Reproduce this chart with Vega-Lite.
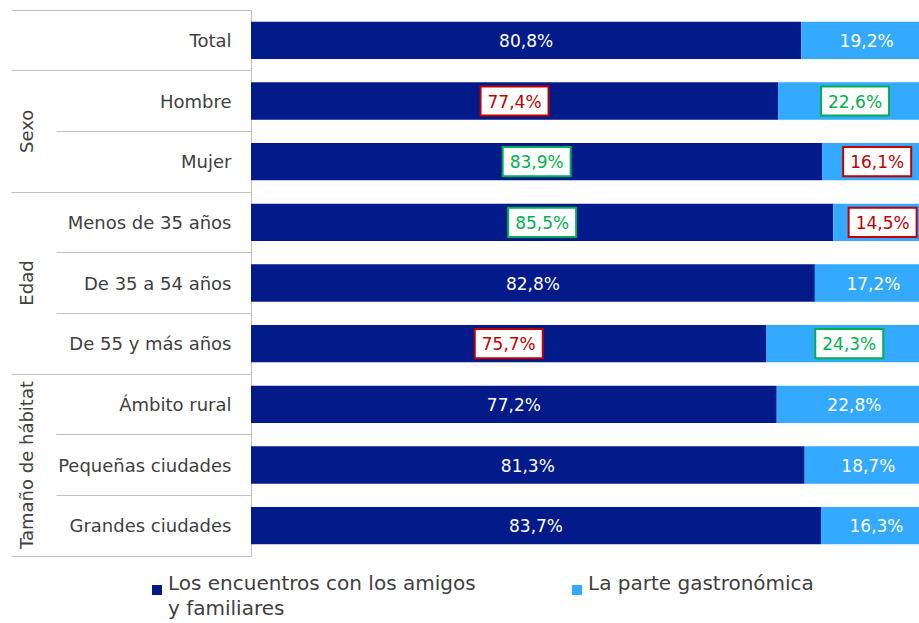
{
  "$schema": "https://vega.github.io/schema/vega-lite/v6.json",
  "width": 668,
  "height": 546,
  "autosize": {"type": "none"},
  "padding": {"left": 251, "top": 10, "right": 0, "bottom": 67},
  "background": "white",
  "config": {
    "view": {"stroke": null},
    "font": "DejaVu Sans",
    "style": {"guide-label": {"lineHeight": 25}},
    "locale": {"number": {"decimal": ",", "thousands": ".", "grouping": [3], "currency": ["", "%"]}}
  },
  "data": {
    "values": [
      {"categoria": "Total", "serie": "Los encuentros con los amigos y familiares", "valor": 80.8, "diferencia": ""},
      {"categoria": "Total", "serie": "La parte gastronómica", "valor": 19.2, "diferencia": ""},
      {"categoria": "Hombre", "serie": "Los encuentros con los amigos y familiares", "valor": 77.4, "diferencia": "inferior"},
      {"categoria": "Hombre", "serie": "La parte gastronómica", "valor": 22.6, "diferencia": "superior"},
      {"categoria": "Mujer", "serie": "Los encuentros con los amigos y familiares", "valor": 83.9, "diferencia": "superior"},
      {"categoria": "Mujer", "serie": "La parte gastronómica", "valor": 16.1, "diferencia": "inferior"},
      {"categoria": "Menos de 35 años", "serie": "Los encuentros con los amigos y familiares", "valor": 85.5, "diferencia": "superior"},
      {"categoria": "Menos de 35 años", "serie": "La parte gastronómica", "valor": 14.5, "diferencia": "inferior"},
      {"categoria": "De 35 a 54 años", "serie": "Los encuentros con los amigos y familiares", "valor": 82.8, "diferencia": ""},
      {"categoria": "De 35 a 54 años", "serie": "La parte gastronómica", "valor": 17.2, "diferencia": ""},
      {"categoria": "De 55 y más años", "serie": "Los encuentros con los amigos y familiares", "valor": 75.7, "diferencia": "inferior"},
      {"categoria": "De 55 y más años", "serie": "La parte gastronómica", "valor": 24.3, "diferencia": "superior"},
      {"categoria": "Ámbito rural", "serie": "Los encuentros con los amigos y familiares", "valor": 77.2, "diferencia": ""},
      {"categoria": "Ámbito rural", "serie": "La parte gastronómica", "valor": 22.8, "diferencia": ""},
      {"categoria": "Pequeñas ciudades", "serie": "Los encuentros con los amigos y familiares", "valor": 81.3, "diferencia": ""},
      {"categoria": "Pequeñas ciudades", "serie": "La parte gastronómica", "valor": 18.7, "diferencia": ""},
      {"categoria": "Grandes ciudades", "serie": "Los encuentros con los amigos y familiares", "valor": 83.7, "diferencia": ""},
      {"categoria": "Grandes ciudades", "serie": "La parte gastronómica", "valor": 16.3, "diferencia": ""}
    ]
  },
  "layer": [
    {
      "mark": {"type": "bar", "height": {"band": 0.615}, "clip": true},
      "encoding": {
        "y": {
          "field": "categoria", "type": "nominal",
          "scale": {"domain": ["Total", "Hombre", "Mujer", "Menos de 35 años", "De 35 a 54 años", "De 55 y más años", "Ámbito rural", "Pequeñas ciudades", "Grandes ciudades"], "paddingInner": 0, "paddingOuter": 0},
          "axis": {
            "title": null,
            "domain": true, "domainColor": "#BFBFBF", "domainWidth": 1,
            "ticks": true, "tickColor": "#BFBFBF", "tickWidth": 1,
            "bandPosition": 1, "tickExtra": true,
            "tickSize": {"condition": {"test": "indexof(['Hombre','Menos de 35 años','De 35 a 54 años','Ámbito rural','Pequeñas ciudades'], datum.value) >= 0", "value": 195}, "value": 240},
            "labelPadding": {"condition": {"test": "indexof(['Hombre','Menos de 35 años','De 35 a 54 años','Ámbito rural','Pequeñas ciudades'], datum.value) >= 0", "value": -175}, "value": -220},
            "labelAlign": "right", "labelBaseline": "middle", "labelOffset": 1.5,
            "labelFont": "DejaVu Sans", "labelFontSize": 18, "labelColor": "#404040",
            "labelLimit": 400, "labelOverlap": false
          }
        },
        "x": {"field": "valor", "type": "quantitative", "stack": "zero", "scale": {"domain": [0, 100], "range": [0, 681]}, "axis": null},
        "order": {"field": "serie", "sort": "descending"},
        "color": {
          "field": "serie", "type": "nominal",
          "scale": {"domain": ["Los encuentros con los amigos y familiares", "La parte gastronómica"], "range": ["#021A8A", "#33A9FF"]},
          "legend": {
            "title": null, "orient": "none", "legendX": -104, "legendY": 570,
            "direction": "horizontal", "columns": 2, "columnPadding": 91,
            "symbolType": "square", "symbolSize": 100, "symbolStrokeWidth": 0,
            "labelFont": "DejaVu Sans", "labelFontSize": 20, "labelColor": "#404040",
            "labelOffset": 1, "labelLimit": 400, "labelBaseline": "alphabetic",
            "labelExpr": "datum.label == 'Los encuentros con los amigos y familiares' ? ['Los encuentros con los amigos', 'y familiares'] : [datum.label, '']"
          }
        }
      }
    },
    {
      "transform": [{"filter": "datum.serie == 'Los encuentros con los amigos y familiares' && datum.diferencia != ''"}],
      "mark": {"type": "point", "shape": "M-1,-0.43L1,-0.43L1,0.43L-1,0.43Z", "size": 4624, "filled": false, "fill": "white", "fillOpacity": 1, "strokeWidth": 2, "opacity": 1},
      "encoding": {
        "y": {"field": "categoria", "type": "nominal", "axis": null},
        "x": {"field": "valor", "type": "quantitative", "scale": {"domain": [0, 100], "range": [0, 340.5]}, "axis": null},
        "stroke": {"condition": {"test": "datum.diferencia == 'superior'", "value": "#00B050"}, "value": "#C00000"}
      }
    },
    {
      "transform": [{"filter": "datum.serie == 'Los encuentros con los amigos y familiares'"}],
      "mark": {"type": "text", "font": "DejaVu Sans", "fontSize": 17, "align": "center", "baseline": "middle", "dy": 1.5},
      "encoding": {
        "y": {
          "field": "categoria", "type": "nominal",
          "axis": {
            "orient": "left", "title": null, "domain": false, "ticks": false, "grid": false,
            "labelExpr": "datum.value == 'Mujer' ? 'Sexo' : datum.value == 'De 35 a 54 años' ? 'Edad' : datum.value == 'Pequeñas ciudades' ? 'Tamaño de hábitat' : ''",
            "labelAngle": -90, "labelAlign": "center", "labelBaseline": "middle",
            "labelPadding": 224,
            "labelOffset": {"condition": {"test": "datum.value == 'Mujer'", "value": -30.3}, "value": 0},
            "labelFont": "DejaVu Sans", "labelFontSize": 18, "labelColor": "#404040",
            "labelLimit": 400, "labelOverlap": false
          }
        },
        "x": {"field": "valor", "type": "quantitative", "scale": {"domain": [0, 100], "range": [0, 340.5]}, "axis": null},
        "text": {"field": "valor", "type": "quantitative", "format": "$.1f"},
        "color": {"condition": [{"test": "datum.diferencia == 'superior'", "value": "#00B050"}, {"test": "datum.diferencia == 'inferior'", "value": "#C00000"}], "value": "white"}
      }
    },
    {
      "transform": [{"filter": "datum.serie == 'La parte gastronómica' && datum.diferencia != ''"}],
      "mark": {"type": "point", "shape": "M-1,-0.43L1,-0.43L1,0.43L-1,0.43Z", "size": 4624, "filled": false, "fill": "white", "fillOpacity": 1, "strokeWidth": 2, "opacity": 1},
      "encoding": {
        "y": {"field": "categoria", "type": "nominal", "axis": null},
        "x": {"field": "valor", "type": "quantitative", "scale": {"domain": [0, 100], "range": [681, 340.5]}, "axis": null},
        "stroke": {"condition": {"test": "datum.diferencia == 'superior'", "value": "#00B050"}, "value": "#C00000"}
      }
    },
    {
      "transform": [{"filter": "datum.serie == 'La parte gastronómica'"}],
      "mark": {"type": "text", "font": "DejaVu Sans", "fontSize": 17, "align": "center", "baseline": "middle", "dy": 1.5},
      "encoding": {
        "y": {"field": "categoria", "type": "nominal", "axis": null},
        "x": {"field": "valor", "type": "quantitative", "scale": {"domain": [0, 100], "range": [681, 340.5]}, "axis": null},
        "text": {"field": "valor", "type": "quantitative", "format": "$.1f"},
        "color": {"condition": [{"test": "datum.diferencia == 'superior'", "value": "#00B050"}, {"test": "datum.diferencia == 'inferior'", "value": "#C00000"}], "value": "white"}
      }
    }
  ],
  "resolve": {"scale": {"x": "independent"}, "axis": {"y": "independent"}}
}
